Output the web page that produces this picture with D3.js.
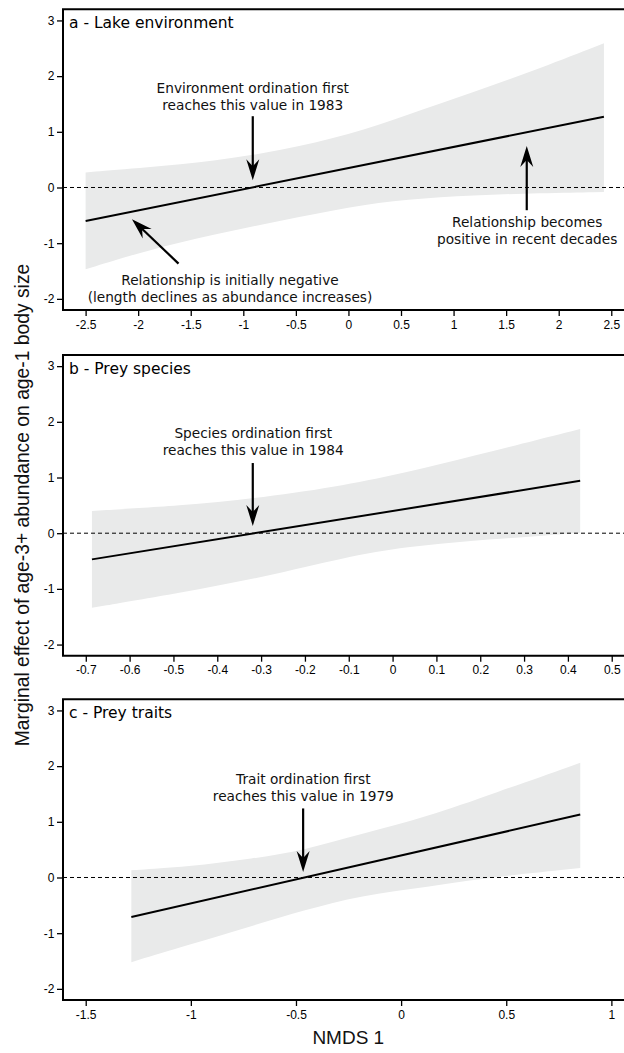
<!DOCTYPE html>
<html>
<head>
<meta charset="utf-8">
<script src="https://cdn.jsdelivr.net/npm/d3@7"></script>
<style>
  html, body { margin: 0; padding: 0; background: #ffffff; }
  svg { display: block; }
</style>
</head>
<body>
<div id="chart"></div>
<script>
// ---------------- DATA ----------------
const panelLabels = ["a - Lake environment", "b - Prey species", "c - Prey traits"];
const yAxisTitle = "Marginal effect of age-3+ abundance on age-1 body size";
const xAxisTitle = "NMDS 1";

const yTicks = [-2, -1, 0, 1, 2, 3];
const yTickLabels = ["-2", "-1", "0", "1", "2", "3"];
const yLimits = [-2.2, 3.2];

// Panel a - Lake environment
const xLimitsA = [-2.715, 2.621];
const xTicksA = [-2.5, -2, -1.5, -1, -0.5, 0, 0.5, 1, 1.5, 2, 2.5];
const xTickLabelsA = ["-2.5", "-2", "-1.5", "-1", "-0.5", "0", "0.5", "1", "1.5", "2", "2.5"];
const bandXA = [-2.5, -1.92, -1.28, -0.65, 0.02, 0.555, 1.19, 1.82, 2.43];
const bandUpperA = [0.27, 0.36, 0.47, 0.66, 0.95, 1.30, 1.71, 2.14, 2.59];
const bandLowerA = [-1.47, -1.13, -0.84, -0.60, -0.34, -0.21, -0.14, -0.10, -0.08];
const lineXA = [-2.5, 2.43];
const lineYA = [-0.60, 1.27];

// Panel b - Prey species
const xLimitsB = [-0.752, 0.528];
const xTicksB = [-0.7, -0.6, -0.5, -0.4, -0.3, -0.2, -0.1, 0, 0.1, 0.2, 0.3, 0.4, 0.5];
const xTickLabelsB = ["-0.7", "-0.6", "-0.5", "-0.4", "-0.3", "-0.2", "-0.1", "0", "0.1", "0.2", "0.3", "0.4", "0.5"];
const bandXB = [-0.686, -0.485, -0.294, -0.108, 0.033, 0.185, 0.337, 0.428];
const bandUpperB = [0.40, 0.49, 0.64, 0.86, 1.09, 1.39, 1.69, 1.87];
const bandLowerB = [-1.34, -1.07, -0.79, -0.43, -0.24, -0.13, -0.05, 0.01];
const lineXB = [-0.686, 0.428];
const lineYB = [-0.47, 0.94];

// Panel c - Prey traits
const xLimitsC = [-1.608, 1.060];
const xTicksC = [-1.5, -1, -0.5, 0, 0.5, 1];
const xTickLabelsC = ["-1.5", "-1", "-0.5", "0", "0.5", "1"];
const bandXC = [-1.283, -1.017, -0.70, -0.463, -0.19, 0.124, 0.44, 0.852];
const bandUpperC = [0.13, 0.19, 0.34, 0.49, 0.78, 1.09, 1.51, 2.06];
const bandLowerC = [-1.52, -1.22, -0.86, -0.59, -0.32, -0.17, 0.01, 0.17];
const lineXC = [-1.283, 0.852];
const lineYC = [-0.71, 1.13];

// Annotations (data coordinates): text lines, arrows
const notesA = [
  { lines: ["Environment ordination first", "reaches this value in 1983"], x: -0.91, y: [1.70, 1.40] },
  { lines: ["Relationship is initially negative", "(length declines as abundance increases)"], x: -1.127, y: [-1.757, -2.058] },
  { lines: ["Relationship becomes", "positive in recent decades"], x: 1.70, y: [-0.709, -1.007] }
];
const arrowsA = [
  { from: [-0.91, 1.28], to: [-0.91, 0.13] },
  { from: [-1.616, -1.367], to: [-2.059, -0.57] },
  { from: [1.696, -0.408], to: [1.696, 0.743] }
];
const notesB = [
  { lines: ["Species ordination first", "reaches this value in 1984"], x: -0.318, y: [1.71, 1.41] }
];
const arrowsB = [
  { from: [-0.319, 1.26], to: [-0.319, 0.13] }
];
const notesC = [
  { lines: ["Trait ordination first", "reaches this value in 1979"], x: -0.465, y: [1.68, 1.38] }
];
const arrowsC = [
  { from: [-0.466, 1.24], to: [-0.466, 0.10] }
];

// ---------------- LAYOUT ----------------
const W = 624, H = 1053;
const plotLeft = 63, plotRight = 624;
const panelTops = [9.3, 355, 699.3];
const panelHeight = 300.7;

const panels = [
  { label: panelLabels[0], xLim: xLimitsA, xTicks: xTicksA, xLabels: xTickLabelsA,
    bx: bandXA, bu: bandUpperA, bl: bandLowerA, lx: lineXA, ly: lineYA, notes: notesA, arrows: arrowsA },
  { label: panelLabels[1], xLim: xLimitsB, xTicks: xTicksB, xLabels: xTickLabelsB,
    bx: bandXB, bu: bandUpperB, bl: bandLowerB, lx: lineXB, ly: lineYB, notes: notesB, arrows: arrowsB },
  { label: panelLabels[2], xLim: xLimitsC, xTicks: xTicksC, xLabels: xTickLabelsC,
    bx: bandXC, bu: bandUpperC, bl: bandLowerC, lx: lineXC, ly: lineYC, notes: notesC, arrows: arrowsC }
];

const svg = d3.select("#chart").append("svg")
  .attr("width", W).attr("height", H)
  .attr("viewBox", `0 0 ${W} ${H}`);
svg.append("rect").attr("width", W).attr("height", H).attr("fill", "#ffffff");

const tickFont = "'Liberation Sans', Arial, sans-serif";
const noteFont = "'DejaVu Sans', Verdana, sans-serif";

function arrowHead(g, x1, y1, x2, y2) {
  const ang = Math.atan2(y2 - y1, x2 - x1);
  const L = 21, Wd = 6.5, notch = 14;
  const pts = [[0, 0], [-L, -Wd], [-notch, 0], [-L, Wd]].map(([px, py]) => [
    x2 + px * Math.cos(ang) - py * Math.sin(ang),
    y2 + px * Math.sin(ang) + py * Math.cos(ang)
  ]);
  g.append("path").attr("d", "M" + pts.map(p => p.join(",")).join("L") + "Z")
    .attr("fill", "#000").attr("stroke", "none");
}

panels.forEach((p, i) => {
  const top = panelTops[i], bottom = top + panelHeight;
  const x = d3.scaleLinear().domain(p.xLim).range([plotLeft, plotRight]);
  const y = d3.scaleLinear().domain(yLimits).range([bottom, top]);
  const g = svg.append("g");

  // confidence band
  const bandData = p.bx.map((v, k) => ({ x: v, lo: p.bl[k], hi: p.bu[k] }));
  g.append("path").datum(bandData)
    .attr("d", d3.area().x(d => x(d.x)).y0(d => y(d.lo)).y1(d => y(d.hi)).curve(d3.curveBasis))
    .attr("fill", "#e9eaea").attr("stroke", "none");

  // zero reference line
  g.append("line")
    .attr("x1", plotLeft).attr("x2", plotRight)
    .attr("y1", y(0)).attr("y2", y(0))
    .attr("stroke", "#000").attr("stroke-width", 1).attr("stroke-dasharray", "4,3");

  // fitted line
  const lineData = p.lx.map((v, k) => ({ x: v, y: p.ly[k] }));
  g.append("path").datum(lineData)
    .attr("d", d3.line().x(d => x(d.x)).y(d => y(d.y)))
    .attr("fill", "none").attr("stroke", "#000").attr("stroke-width", 2);

  // axes
  const xAxis = d3.axisBottom(x).tickValues(p.xTicks)
    .tickFormat((d, k) => p.xLabels[k]).tickSize(6).tickSizeOuter(0);
  const gx = g.append("g").attr("transform", `translate(0,${bottom})`).call(xAxis);
  gx.select(".domain").remove();
  gx.selectAll(".tick line").attr("stroke", "#000").attr("stroke-width", 1.3);
  gx.selectAll(".tick text").attr("font-family", tickFont).attr("font-size", 12)
    .attr("fill", "#000").attr("dy", null).attr("y", 18.6);

  const yAxis = d3.axisLeft(y).tickValues(yTicks)
    .tickFormat((d, k) => yTickLabels[k]).tickSize(6).tickSizeOuter(0);
  const gy = g.append("g").attr("transform", `translate(${plotLeft},0)`).call(yAxis);
  gy.select(".domain").remove();
  gy.selectAll(".tick line").attr("stroke", "#000").attr("stroke-width", 1.3);
  gy.selectAll(".tick text").attr("font-family", tickFont).attr("font-size", 12)
    .attr("fill", "#000").attr("x", -8.5);

  // frame (left, top, bottom; right side falls outside the image)
  g.append("path")
    .attr("d", `M${plotRight + 2},${top}H${plotLeft}V${bottom}H${plotRight + 2}`)
    .attr("fill", "none").attr("stroke", "#000").attr("stroke-width", 2);

  // panel label
  g.append("text").attr("x", plotLeft + 6).attr("y", top + 19)
    .attr("font-family", noteFont).attr("font-size", 15.5).attr("fill", "#000")
    .text(p.label);

  // annotation texts
  p.notes.forEach(n => {
    n.lines.forEach((t, k) => {
      g.append("text").attr("x", x(n.x)).attr("y", y(n.y[k]))
        .attr("text-anchor", "middle")
        .attr("font-family", noteFont).attr("font-size", 13.7).attr("fill", "#111")
        .text(t);
    });
  });

  // arrows
  p.arrows.forEach(a => {
    const x1 = x(a.from[0]), y1 = y(a.from[1]), x2 = x(a.to[0]), y2 = y(a.to[1]);
    const ang = Math.atan2(y2 - y1, x2 - x1);
    g.append("line").attr("x1", x1).attr("y1", y1)
      .attr("x2", x2 - 12 * Math.cos(ang)).attr("y2", y2 - 12 * Math.sin(ang))
      .attr("stroke", "#000").attr("stroke-width", 2.2);
    arrowHead(g, x1, y1, x2, y2);
  });
});

// axis titles
svg.append("text")
  .attr("transform", `translate(29,505) rotate(-90)`)
  .attr("text-anchor", "middle")
  .attr("font-family", tickFont).attr("font-size", 19.3).attr("fill", "#111")
  .text(yAxisTitle);

svg.append("text")
  .attr("x", 348.3).attr("y", 1044)
  .attr("text-anchor", "middle")
  .attr("font-family", tickFont).attr("font-size", 19).attr("fill", "#111")
  .text(xAxisTitle);
</script>
</body>
</html>
